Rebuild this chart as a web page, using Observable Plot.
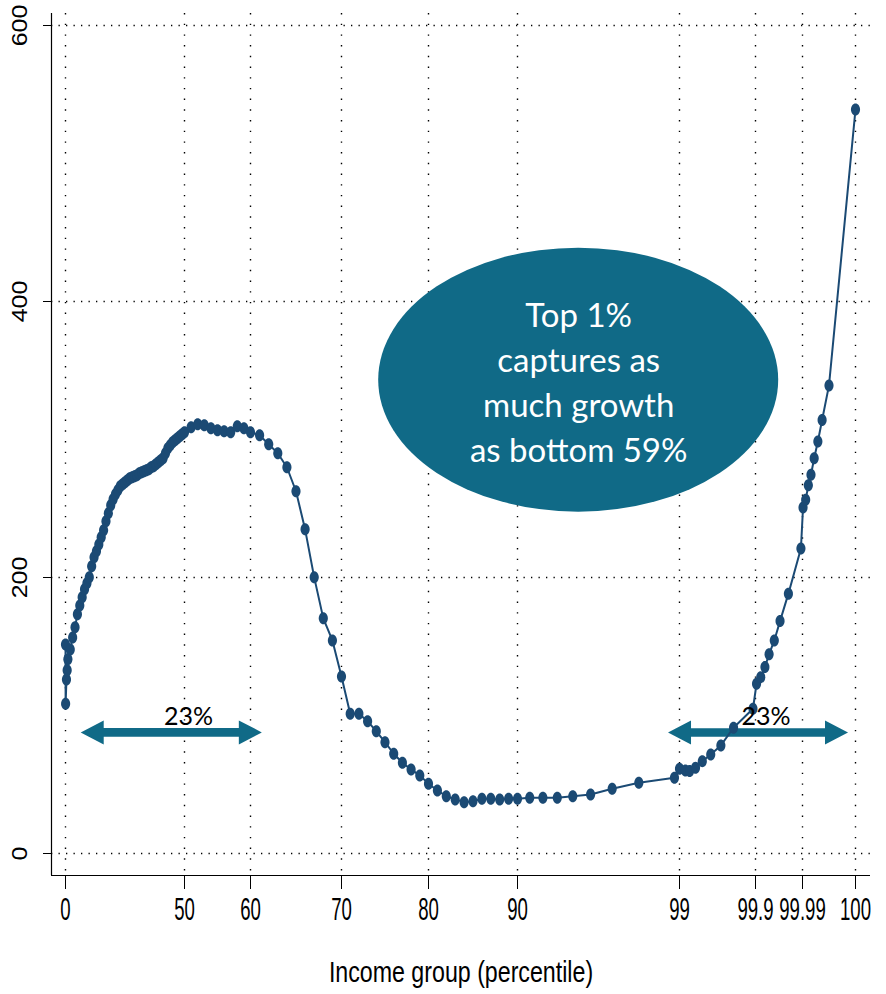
<!DOCTYPE html>
<html>
<head>
<meta charset="utf-8">
<script src="https://cdn.jsdelivr.net/npm/d3@7"></script>
<script src="https://cdn.jsdelivr.net/npm/@observablehq/plot@0.6"></script>
<style>
  html, body { margin: 0; padding: 0; background: #fff; overflow: hidden; }
</style>
</head>
<body>
<script>
// ---- data ----
const pctl = [
  0, 0.05, 0.4, 0.7,
  1, 2, 3, 4, 5, 6, 7, 8, 9, 10,
  11, 12, 13, 14, 15, 16, 17, 18, 19, 20,
  21, 22, 23, 24, 25, 26, 27, 28, 29, 30,
  31, 32, 33, 34, 35, 36, 37, 38, 39, 40,
  41, 42, 43, 44, 45, 46, 47, 48, 49, 50,
  51, 52, 53, 54, 55, 56, 57, 58, 59, 60,
  61, 62, 63, 64, 65, 66, 67, 68, 69, 70,
  71, 72, 73, 74, 75, 76, 77, 78, 79, 80,
  81, 82, 83, 84, 85, 86, 87, 88, 89, 90,
  90.68, 91.41, 92.21, 93.07, 94.06, 95.26, 96.74, 98.72,
  99.0, 99.07, 99.12, 99.19, 99.27, 99.37, 99.49, 99.64, 99.87,
  99.902, 99.91, 99.918, 99.926, 99.936, 99.947, 99.963, 99.987,
  99.9901, 99.9906, 99.9911, 99.9916, 99.9922, 99.9929, 99.9937, 99.995, 100
];
const growth = [
  151.5, 108.5, 126.0, 132.7,
  140.7, 147.9, 156.6, 163.9, 173.3, 179.8, 185.6, 191.4, 195.8, 200.1,
  208.1, 214.6, 219.0, 224.0, 229.1, 234.2, 240.7, 246.5, 252.3, 256.7,
  260.3, 263.2, 266.1, 267.5, 269.0, 270.4, 271.9, 272.6, 273.3, 274.1,
  275.5, 276.2, 277.0, 277.7, 278.4, 279.9, 280.6, 282.0, 283.5, 284.9,
  286.4, 290.0, 293.6, 295.8, 298.0, 299.4, 300.9, 302.3, 303.8, 305.3,
  308.9, 311.1, 310.3, 308.2, 306.7, 306.0, 305.3, 309.6, 308.2, 305.3,
  303.1, 296.5, 290.0, 279.9, 262.5, 234.9, 200.1, 170.4, 154.4, 128.3,
  101.3, 101.3, 95.9, 88.5, 80.7, 72.3, 65.8, 60.9, 56.6, 50.5,
  45.7, 41.5, 39.2, 37.2, 37.9, 39.7, 39.7, 39.2, 39.7, 39.7,
  40.4, 40.4, 40.4, 41.5, 42.8, 46.9, 51.3, 54.9,
  61.4, 60.2, 59.7, 62.1, 66.9, 71.8, 78.3, 91.1, 104.9,
  123.0, 127.8, 135.1, 144.3, 154.4, 168.4, 188.3, 221.0,
  250.7, 256.4, 266.8, 274.5, 286.4, 298.6, 314.1, 339.2, 539.2
];
const xTicks = [0, 50, 60, 70, 80, 90, 99, 99.9, 99.99, 100];
const xTickLabels = ["0", "50", "60", "70", "80", "90", "99", "99.9", "99.99", "100"];
const yTicks = [0, 200, 400, 600];
const yTickLabels = ["0", "200", "400", "600"];
const xTitle = "Income group (percentile)";

const calloutAt = {pctl: 93.4, growth: 343};
const calloutLines = ["Top 1%", "captures as", "much growth", "as bottom 59%"];

const arrowSpans = [
  {from: 6.6, to: 61.3, at: 87.4, label: "23%", labelAt: 50.6},
  {from: 98.39, to: 99.99868, at: 87.3, label: "23%", labelAt: 99.92}
];

// ---- styling ----
const BLUE = "#1b4a74";
const TEAL = "#106a87";

const points = pctl.map((p, i) => ({p, g: growth[i]}));
const tickLabel = new Map(xTicks.map((t, i) => [t, xTickLabels[i]]));
const yLabel = new Map(yTicks.map((t, i) => [t, yTickLabels[i]]));

const ellipseDot = {
  draw(ctx, size) {
    const ry = Math.sqrt(size / Math.PI), rx = ry * 0.76, k = 0.5523;
    ctx.moveTo(rx, 0);
    ctx.bezierCurveTo(rx, k * ry, k * rx, ry, 0, ry);
    ctx.bezierCurveTo(-k * rx, ry, -rx, k * ry, -rx, 0);
    ctx.bezierCurveTo(-rx, -k * ry, -k * rx, -ry, 0, -ry);
    ctx.bezierCurveTo(k * rx, -ry, rx, -k * ry, rx, 0);
    ctx.closePath();
  }
};

function calloutShape(index, scales) {
  const g = d3.create("svg:g");
  g.append("ellipse")
    .attr("cx", scales.x(calloutAt.pctl))
    .attr("cy", scales.y(calloutAt.growth))
    .attr("rx", 200).attr("ry", 132)
    .attr("fill", TEAL);
  return g.node();
}

function arrowShapes(index, scales) {
  const g = d3.create("svg:g").attr("fill", TEAL);
  for (const a of arrowSpans) {
    const x1 = scales.x(a.from), x2 = scales.x(a.to), y = scales.y(a.at);
    const h = 12, s = 4.3, L = 23;
    g.append("path").attr("d",
      `M${x1},${y}L${x1 + L},${y - h}V${y - s}H${x2 - L}V${y - h}L${x2},${y}` +
      `L${x2 - L},${y + h}V${y + s}H${x1 + L}V${y + h}Z`);
  }
  return g.node();
}

const chart = Plot.plot({
  width: 886,
  height: 994,
  marginLeft: 51,
  marginRight: 16,
  marginTop: 13,
  marginBottom: 119,
  style: {fontFamily: "'Liberation Sans', Arial, sans-serif", background: "#fff", color: "#000"},
  x: {type: "linear", domain: xTicks, range: [65, 184, 250, 341, 428, 517, 679, 755, 802, 855]},
  y: {type: "linear", domain: [0, 600], range: [853, 25]},
  marks: [
    Plot.ruleX(xTicks, {stroke: "#000", strokeWidth: 1.4, strokeDasharray: "1.4 9.3"}),
    Plot.ruleY(yTicks, {stroke: "#000", strokeWidth: 1.3, strokeDasharray: "1.3 6.2"}),
    Plot.ruleX([0], {dx: -14, stroke: "#000", strokeWidth: 1.2}),
    Plot.ruleY([0], {dy: 22, stroke: "#000", strokeWidth: 1.2}),
    Plot.axisX({ticks: xTicks, tickSize: 14, tickPadding: 8, tickFormat: d => tickLabel.get(d), fontSize: 31, label: null}),
    Plot.axisY({ticks: yTicks, tickSize: 8, tickFormat: () => "", label: null}),
    Plot.text(yTicks, {y: d => d, frameAnchor: "left", dx: -31, rotate: -90, text: d => yLabel.get(d),
      fontSize: 25, textAnchor: "middle", lineAnchor: "middle", fill: "#000"}),
    Plot.text([xTitle], {frameAnchor: "bottom", dy: 97, text: d => d, fontSize: 29, lineAnchor: "middle", fill: "#000"}),
    calloutShape,
    Plot.text([calloutLines.join("\n")], {x: () => calloutAt.pctl, y: () => calloutAt.growth, text: d => d,
      fill: "#fff", fontFamily: "Lato", fontSize: 33, lineHeight: 1.36, lineAnchor: "middle"}),
    arrowShapes,
    Plot.line(points, {x: "p", y: "g", stroke: BLUE, strokeWidth: 2}),
    Plot.dot(points, {x: "p", y: "g", r: 6, fill: BLUE, symbol: ellipseDot}),
    Plot.text(arrowSpans, {x: "labelAt", y: "at", text: "label", dy: -16, fontFamily: "Lato", fontSize: 25, fill: "#000", lineAnchor: "middle"})
  ]
});

// horizontally condense some labels, as in the reference
function squeezeEl(t, sx, sy) {
  let tr = t.getAttribute("transform");
  if (!tr) {
    const x = +t.getAttribute("x") || 0, y = +t.getAttribute("y") || 0;
    t.removeAttribute("x"); t.removeAttribute("y");
    tr = `translate(${x},${y})`;
  }
  t.setAttribute("transform", `${tr} scale(${sx},${sy})`);
}
const allText = Array.from(chart.querySelectorAll("text"));
allText.filter(t => t.closest('g[aria-label="x-axis tick label"]')).forEach(t => squeezeEl(t, 0.6, 1));
allText.filter(t => t.textContent === xTitle).forEach(t => squeezeEl(t, 0.8, 1));
allText.filter(t => yTickLabels.includes(t.textContent) && (t.getAttribute("transform") || "").includes("rotate"))
  .forEach(t => squeezeEl(t, 1, 0.85));

document.body.appendChild(chart);
</script>
</body>
</html>
